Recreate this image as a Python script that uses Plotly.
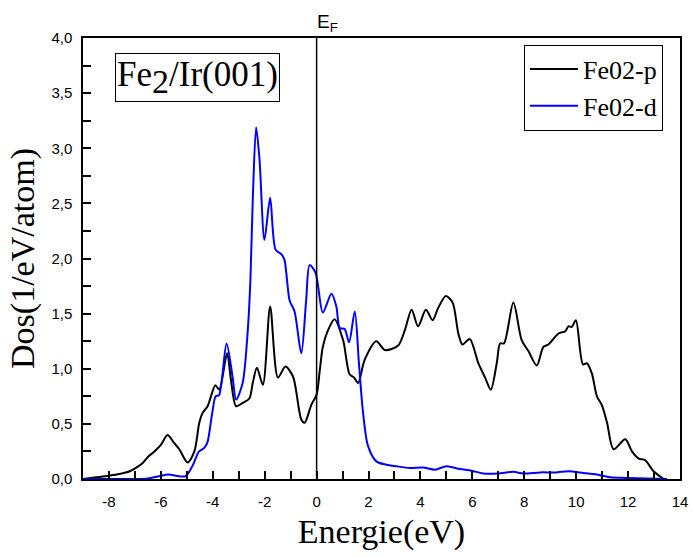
import plotly.graph_objects as go

# ---- data ----
energy_p = [-9.0, -8.5, -8.0, -7.6, -7.2, -6.9, -6.7, -6.5, -6.25, -6.0, -5.74, -5.5, -5.29, -4.97,
            -4.71, -4.52, -4.39, -4.2, -3.9, -3.75, -3.45, -3.3, -3.1, -2.85, -2.59, -2.46, -2.3,
            -2.07, -1.79, -1.49, -1.2, -0.91, -0.59, -0.46, -0.2, 0.0, 0.12, 0.24, 0.44, 0.69,
            1.02, 1.27, 1.44, 1.6, 1.85, 2.3, 2.63, 3.14, 3.4, 3.66, 3.91, 4.21, 4.47, 4.68, 4.98,
            5.24, 5.46, 5.62, 5.9, 6.23, 6.49, 6.71, 6.94, 7.07, 7.22, 7.58, 7.9, 8.16, 8.48,
            8.74, 8.93, 9.32, 9.58, 9.70, 9.83, 9.99, 10.26, 10.41, 10.6, 10.8, 10.99, 11.19,
            11.44, 11.89, 12.15, 12.41, 12.66, 12.98, 13.37]
dos_p = [0.0, 0.015, 0.03, 0.045, 0.07, 0.11, 0.145, 0.2, 0.25, 0.31, 0.40, 0.33, 0.27, 0.15,
         0.25, 0.51, 0.60, 0.66, 0.85, 0.81, 1.14, 0.90, 0.66, 0.69, 0.73, 0.87, 1.01,
         0.855, 1.565, 0.92, 1.02, 0.93, 0.54, 0.51, 0.675, 0.765, 0.98, 1.20, 1.35, 1.45,
         1.26, 0.95, 0.92, 0.87, 1.08, 1.25, 1.17, 1.21, 1.35, 1.535, 1.385, 1.535, 1.44, 1.55, 1.66,
         1.60, 1.32, 1.22, 1.27, 1.05, 0.92, 0.81, 1.05, 1.23, 1.23, 1.60, 1.26, 1.16, 1.03,
         1.20, 1.22, 1.32, 1.34, 1.385, 1.38, 1.44, 1.04, 1.05, 0.96, 0.75, 0.67, 0.51,
         0.27, 0.36, 0.25, 0.185, 0.17, 0.07, 0.0]

energy_d = [-9.0, -7.0, -6.5, -6.07, -5.71, -5.3, -5.05, -4.79, -4.53, -4.34, -4.21, -4.02, -3.89,
            -3.76, -3.47, -3.24, -3.1, -2.85, -2.65, -2.55, -2.46, -2.33, -2.2, -2.01, -1.79,
            -1.58, -1.36, -1.24, -1.04, -0.85, -0.59, -0.4, -0.27, -0.04, 0.24, 0.57, 0.76,
            0.89, 1.08, 1.25, 1.47, 1.63, 1.79, 1.98, 2.3, 2.69, 3.08, 3.59, 4.1, 4.56, 5.0,
            5.52, 5.97, 6.42, 7.0, 7.58, 7.97, 8.61, 9.25, 9.70, 10.28, 10.8, 11.31, 11.96, 13.5]
dos_d = [0.0, 0.0, 0.005, 0.025, 0.04, 0.025, 0.025, 0.115, 0.25, 0.28, 0.33, 0.60, 0.75,
         0.76, 1.23, 0.93, 0.72, 0.87, 1.355, 1.81, 2.53, 3.19, 2.90, 2.17, 2.55,
         2.08, 2.04, 1.99, 1.62, 1.52, 1.14, 1.63, 1.94, 1.87, 1.51, 1.68, 1.565,
         1.37, 1.36, 1.24, 1.52, 1.05, 0.60, 0.30, 0.16, 0.13, 0.115, 0.10, 0.105, 0.085, 0.115,
         0.09, 0.075, 0.05, 0.05, 0.065, 0.05, 0.06, 0.06, 0.07, 0.055, 0.04, 0.015, 0.01, 0.0]

x_tick_vals = [-8, -6, -4, -2, 0, 2, 4, 6, 8, 10, 12, 14]
x_tick_labels = ["-8", "-6", "-4", "-2", "0", "2", "4", "6", "8", "10", "12", "14"]
y_tick_vals = [0.0, 0.5, 1.0, 1.5, 2.0, 2.5, 3.0, 3.5, 4.0]
y_tick_labels = ["0,0", "0,5", "1,0", "1,5", "2,0", "2,5", "3,0", "3,5", "4,0"]

serif = "Liberation Serif"
sans = "Liberation Sans"

fig = go.Figure()
fig.add_trace(go.Scatter(x=energy_p, y=dos_p, mode="lines", name="Fe02-p",
                         line=dict(color="black", width=2, shape="spline", smoothing=0.8)))
fig.add_trace(go.Scatter(x=energy_d, y=dos_d, mode="lines", name="Fe02-d",
                         line=dict(color="#0000ff", width=2, shape="spline", smoothing=0.8)))

fig.add_shape(type="line", xref="x", yref="paper", x0=0, x1=0, y0=0, y1=1,
              line=dict(color="black", width=1.5))

fig.add_annotation(text="E<sub>F</sub>", xref="x", yref="paper", x=0, y=1,
                   xanchor="left", yanchor="bottom", yshift=1, xshift=-2, showarrow=False,
                   font=dict(family=sans, size=19, color="black"))

fig.add_annotation(text="Fe<sub><span style='font-size:34px'>2</span></sub>/Ir(001)",
                   xref="paper", yref="paper",
                   x=0.192, y=0.911, xanchor="center", yanchor="middle", showarrow=False,
                   font=dict(family=serif, size=35, color="black"),
                   bordercolor="black", borderwidth=1, borderpad=1, bgcolor="white")

axis_common = dict(showline=True, linecolor="black", linewidth=1.5, mirror=True,
                   ticks="inside", ticklen=8, tickwidth=1.5, tickcolor="black",
                   showgrid=False, zeroline=False, automargin=False,
                   tickfont=dict(family=sans, size=15, color="black"))

fig.update_layout(
    width=693, height=557,
    margin=dict(l=83, r=13, t=38, b=78),
    paper_bgcolor="white", plot_bgcolor="white",
    font=dict(family=serif, color="black"),
    showlegend=True,
    legend=dict(x=0.9715, y=0.985, xanchor="right", yanchor="top",
                bordercolor="black", borderwidth=1, bgcolor="white",
                font=dict(family=serif, size=26, color="black"),
                itemwidth=48, tracegroupgap=0),
    xaxis=dict(range=[-9, 14], tickvals=x_tick_vals, ticktext=x_tick_labels,
               minor=dict(ticks="inside", dtick=1, tick0=0, ticklen=8, tickwidth=1.5, tickcolor="black"),
               title=dict(text="Energie(eV)", font=dict(family=serif, size=34, color="black"), standoff=10),
               ticklabelstandoff=8,
               **axis_common),
    yaxis=dict(range=[0, 4], tickvals=y_tick_vals, ticktext=y_tick_labels,
               minor=dict(ticks="inside", dtick=0.25, tick0=0, ticklen=8, tickwidth=1.5, tickcolor="black"),
               title=dict(text="Dos(1/eV/atom)", font=dict(family=serif, size=34, color="black"), standoff=6),
               ticklabelstandoff=6,
               **axis_common),
)

fig.write_html("out.html")
